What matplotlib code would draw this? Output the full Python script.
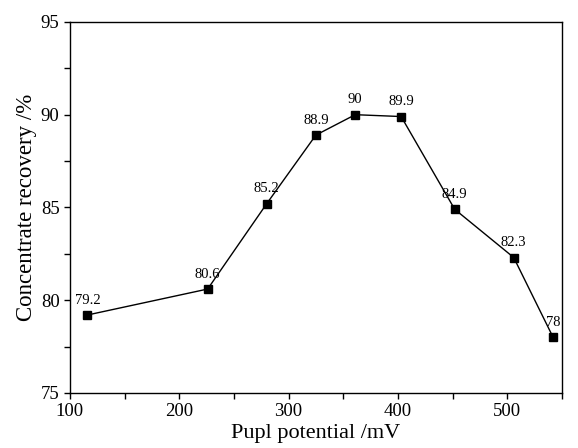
import numpy as np
import matplotlib
matplotlib.use("Agg")
import matplotlib.pyplot as plt
from matplotlib.ticker import MultipleLocator

plt.rcParams['font.family'] = ['Liberation Serif', 'DejaVu Serif']

# pulp potential (mV) and concentrate recovery (%)
potential = [116, 226, 280, 325, 361, 403, 452, 506, 542]
recovery = [79.2, 80.6, 85.2, 88.9, 90.0, 89.9, 84.9, 82.3, 78.0]
labels = ['79.2', '80.6', '85.2', '88.9', '90', '89.9', '84.9', '82.3', '78']

fig = plt.figure(figsize=(5.78, 4.48), dpi=100)
ax = fig.add_axes([0.121, 0.123, 0.851, 0.828])

ax.plot(potential, recovery, '-', color='black', lw=1.0,
        marker='s', ms=6, mfc='black', mec='black')

for x, y, s in zip(potential, recovery, labels):
    ax.annotate(s, (x, y), xytext=(0, 6), textcoords='offset points',
                ha='center', va='bottom', fontsize=10.5)

ax.set_xlim(100, 550)
ax.set_ylim(75, 95)
ax.xaxis.set_major_locator(MultipleLocator(100))
ax.xaxis.set_minor_locator(MultipleLocator(50))
ax.yaxis.set_major_locator(MultipleLocator(5))
ax.yaxis.set_minor_locator(MultipleLocator(2.5))
ax.tick_params(which='both', direction='out', length=4, width=1,
               labelsize=13.5, top=False, right=False)

ax.set_xlabel('Pupl potential /mV', fontsize=16, labelpad=3)
ax.set_ylabel('Concentrate recovery /%', fontsize=16.5, labelpad=3)

for sp in ax.spines.values():
    sp.set_linewidth(1.0)

fig.savefig('out.png', dpi=100)
